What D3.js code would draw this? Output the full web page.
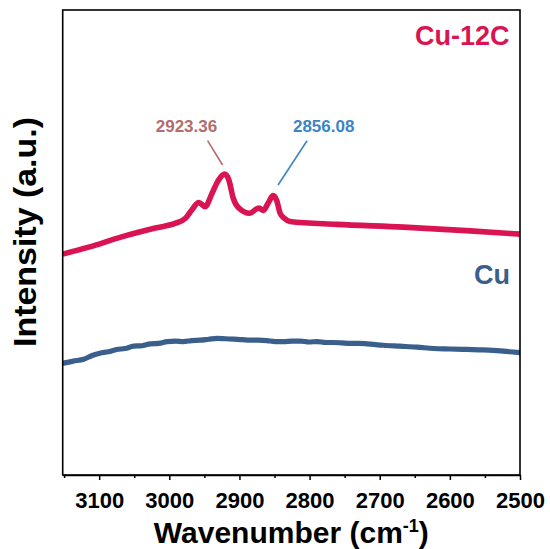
<!DOCTYPE html>
<html>
<head>
<meta charset="utf-8">
<script src="https://cdn.jsdelivr.net/npm/d3@7"></script>
<style>
  html, body { margin: 0; padding: 0; background: #fff; }
  svg { display: block; font-family: "Liberation Sans", Arial, Helvetica, sans-serif; }
</style>
</head>
<body>
<svg id="chart" width="550" height="549"></svg>
<script>
// ---- data ----
const xTicks = [3100, 3000, 2900, 2800, 2700, 2600, 2500];
const xMinorTicks = [3150, 3050, 2950, 2850, 2750, 2650, 2550];

const wnRed = [3152, 3115, 3068, 3020, 2992, 2977, 2968, 2958, 2949, 2939, 2930, 2921, 2915, 2909, 2902, 2885, 2876, 2872, 2866, 2859, 2852, 2847, 2842, 2836, 2828, 2761, 2666, 2571, 2500];
const intRed = [47.5, 49.0, 51.2, 53.1, 54.1, 55.2, 57.0, 58.6, 57.7, 60.6, 63.4, 64.7, 63.4, 59.6, 57.6, 56.3, 57.2, 57.4, 56.9, 58.5, 60.1, 59.1, 56.3, 55.2, 54.5, 53.9, 53.3, 52.5, 51.8];

const wnBlue = [3152, 3137, 3122, 3110, 3099, 3087, 3075, 3063, 3051, 3039, 3027, 3015, 3003, 2991, 2980, 2968, 2956, 2944, 2932, 2920, 2908, 2896, 2885, 2873, 2861, 2849, 2837, 2825, 2813, 2801, 2789, 2777, 2766, 2754, 2742, 2730, 2718, 2695, 2671, 2647, 2623, 2600, 2576, 2552, 2528, 2514, 2500];
const intBlue = [24.0, 24.5, 24.9, 25.7, 26.2, 26.5, 27.0, 27.2, 27.7, 27.8, 28.2, 28.3, 28.7, 28.8, 28.7, 28.9, 29.0, 29.2, 29.4, 29.3, 29.2, 29.1, 29.0, 29.0, 28.9, 28.7, 28.7, 28.8, 28.8, 28.6, 28.7, 28.5, 28.5, 28.4, 28.3, 28.3, 28.2, 27.9, 27.7, 27.5, 27.2, 27.1, 27.0, 26.9, 26.7, 26.5, 26.3];

const seriesNames = ["Cu-12C", "Cu"];
const peakWn = [2923.36, 2856.08];
const peakLabels = ["2923.36", "2856.08"];

// ---- layout ----
const svg = d3.select("#chart");
const L = 62.7, R = 520, T = 10, B = 475;
const x = d3.scaleLinear().domain([3152, 2500]).range([L, R]);
const y = d3.scaleLinear().domain([0, 100]).range([B, T]);

const red = "#DA1452", blue = "#3A5F8C";

const line = d3.line().x(d => x(d[0])).y(d => y(d[1])).curve(d3.curveMonotoneX);

// curves
svg.append("path")
  .datum(wnBlue.map((w, i) => [w, intBlue[i]]))
  .attr("d", line).attr("fill", "none").attr("stroke", blue)
  .attr("stroke-width", 5.2).attr("stroke-linejoin", "round");
svg.append("path")
  .datum(wnRed.map((w, i) => [w, intRed[i]]))
  .attr("d", line).attr("fill", "none").attr("stroke", red)
  .attr("stroke-width", 5.6).attr("stroke-linejoin", "round");

// frame
svg.append("rect").attr("x", L).attr("y", T).attr("width", R - L).attr("height", B - T)
  .attr("fill", "none").attr("stroke", "#000").attr("stroke-width", 1.6);

// bottom axis
const ax = svg.append("g").attr("transform", `translate(0,${B})`)
  .call(d3.axisBottom(x).tickValues(xTicks).tickSize(5).tickSizeOuter(0).tickPadding(12).tickFormat(d3.format("d")));
ax.select(".domain").attr("stroke-width", 1.6);
ax.selectAll(".tick line").attr("stroke-width", 1.5);
ax.selectAll(".tick text").attr("font-size", "22px").attr("font-weight", "bold").attr("fill", "#000")
  .attr("font-family", "Liberation Sans, Arial, sans-serif");
const axm = svg.append("g").attr("transform", `translate(0,${B})`)
  .call(d3.axisBottom(x).tickValues(xMinorTicks).tickSize(3).tickSizeOuter(0).tickFormat(""));
axm.select(".domain").remove();
axm.selectAll(".tick line").attr("stroke-width", 1.5);

// axis titles
const xt = svg.append("text").attr("x", (152.7 + 430) / 2).attr("y", 543)
  .attr("text-anchor", "middle").attr("font-size", "30px").attr("font-weight", "bold");
xt.append("tspan").text("Wavenumber (cm");
xt.append("tspan").text("-1").attr("font-size", "18px").attr("dy", "-11");
xt.append("tspan").text(")").attr("dy", "11");

svg.append("text").attr("transform", `translate(36,${232}) rotate(-90)`)
  .attr("text-anchor", "middle").attr("font-size", "32px").attr("font-weight", "bold")
  .attr("textLength", 230).attr("lengthAdjust", "spacingAndGlyphs")
  .text("Intensity (a.u.)");

// series labels
svg.append("text").attr("x", 509.5).attr("y", 45).attr("text-anchor", "end")
  .attr("font-size", "27px").attr("font-weight", "bold").attr("fill", red).text(seriesNames[0]);
svg.append("text").attr("x", 510).attr("y", 283.5).attr("text-anchor", "end")
  .attr("font-size", "27px").attr("font-weight", "bold").attr("fill", blue).text(seriesNames[1]);

// peak annotations
const annColors = ["#B36C6C", "#3C84C4"];
const annGeom = [
  { dx0: -0.5, y0: 165, dx1: -15.5, y1: 140.7, tdx: -36.6 },
  { dx0: 7.8, y0: 185, dx1: 36.8, y1: 140.7, tdx: 53.4 }
];
peakWn.forEach((w, i) => {
  const px = x(w), g = annGeom[i];
  svg.append("line").attr("x1", px + g.dx0).attr("y1", g.y0).attr("x2", px + g.dx1).attr("y2", g.y1)
    .attr("stroke", annColors[i]).attr("stroke-width", 1.6);
  svg.append("text").attr("x", px + g.tdx).attr("y", 131.7).attr("text-anchor", "middle")
    .attr("font-size", "17px").attr("font-weight", "bold").attr("fill", annColors[i]).text(peakLabels[i]);
});
</script>
</body>
</html>
